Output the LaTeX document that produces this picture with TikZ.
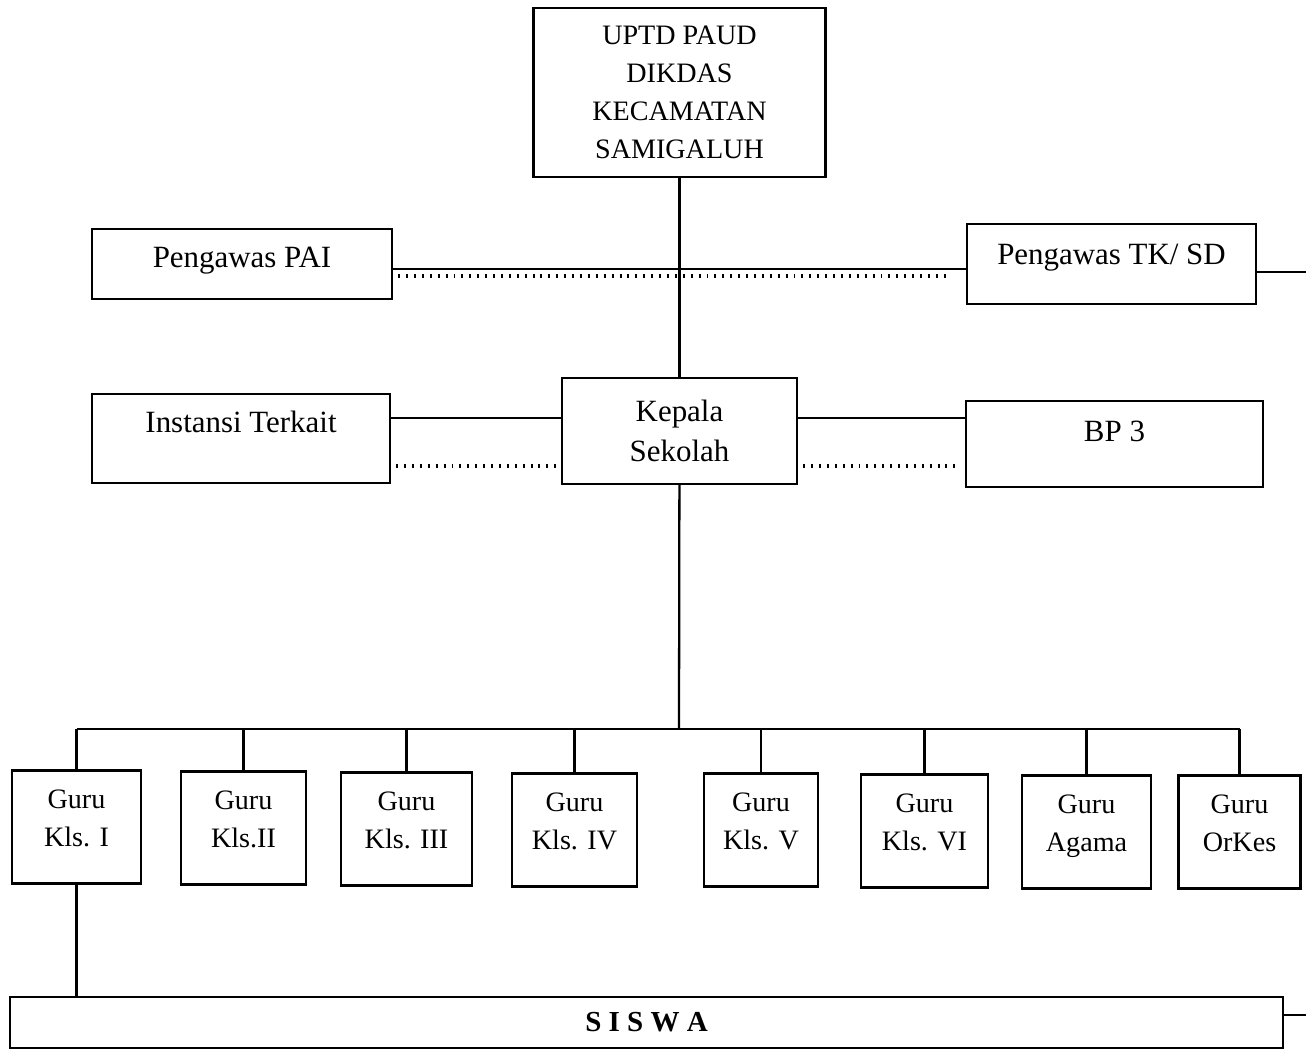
\documentclass[tikz,border=0pt]{standalone}
\usepackage{fontspec}
\setmainfont{Liberation Serif}
\usetikzlibrary{positioning}

\begin{document}
\begin{tikzpicture}[x=0.2mm,y=-0.2mm,line width=1.3pt,
	box node/.style={rectangle,draw,inner sep=0pt,align=center,
		font=\fontsize{17.6}{22.8}\selectfont},
	guru node/.style={box node,minimum height=22.6mm,text height=15.2mm,text depth=7.4mm,
		font=\fontsize{16}{21.6}\selectfont},
	dot line/.style={line width=2.2pt,dash pattern=on 1.1pt off 3.4pt,
		shorten <=1mm,shorten >=1mm}]
	
	\useasboundingbox (0,0) rectangle (1306,1051);
	
	% top level
	\node[box node,minimum width=58.4mm,minimum height=33.8mm,
		font=\fontsize{16}{21.6}\selectfont] (uptd) at (679.5,92.5)
		{UPTD PAUD\\DIKDAS\\KECAMATAN\\SAMIGALUH};
	
	\node[box node,minimum width=60mm,minimum height=14mm,
		text height=7.8mm,text depth=6.2mm] (pai) at (242,264) {Pengawas PAI};
	\node[box node,minimum width=57.8mm,minimum height=16mm,
		text height=8.2mm,text depth=7.8mm] (tksd) at (1111.5,264) {Pengawas TK/ SD};
	
	\node[box node,minimum width=59.6mm,minimum height=17.8mm,
		text height=7.8mm,text depth=10mm] (instansi) at (241,438.5) {Instansi Terkait};
	\node[box node,minimum width=47mm,minimum height=21.2mm] (kepala) at (679.5,431)
		{Kepala\\Sekolah};
	\node[box node,minimum width=59.4mm,minimum height=17.2mm,
		text height=8.2mm,text depth=9mm] (bp) at (1114.5,444) {BP 3};
	
	% guru
	\node[guru node,minimum width=25.8mm] (g1) at (76.5,827) {Guru\\Kls. I};
	\node[guru node,minimum width=25mm] (g2) at (243.5,828) {Guru\\Kls.II};
	\node[guru node,minimum width=26.2mm] (g3) at (406.5,829) {Guru\\Kls. III};
	\node[guru node,minimum width=25mm] (g4) at (574.5,830) {Guru\\Kls. IV};
	\node[guru node,minimum width=22.8mm] (g5) at (761,830) {Guru\\Kls. V};
	\node[guru node,minimum width=25.4mm] (g6) at (924.5,831) {Guru\\Kls. VI};
	\node[guru node,minimum width=25.8mm] (g7) at (1086.5,832) {Guru\\Agama};
	\node[guru node,minimum width=24.4mm] (g8) at (1239.5,832) {Guru\\OrKes};
	
	\node[box node,minimum width=254.6mm,minimum height=10.2mm,
		font=\fontsize{16.5}{20}\selectfont\bfseries] (siswa) at (646.5,1022.5) {S I S W A};
	
	% levels of the links
	\coordinate (paiA) at (679,269);
	\coordinate (paiB) at (679,276);
	\coordinate (tkend) at (1306,272);
	\coordinate (kepA) at (679,418);
	\coordinate (kepB) at (679,466);
	\coordinate (bus) at (679,729);
	\coordinate (swend) at (1306,1015);
	
	\draw (uptd) -- (kepala);
	\draw (pai.east |- paiA) -- (tksd.west |- paiA);
	\draw[dot line] (pai.east |- paiB) -- ([xshift=-2mm]tksd.west |- paiB);
	\draw (tksd.east |- tkend) -- (tkend);
	
	\draw (instansi.east |- kepA) -- (kepala.west |- kepA);
	\draw[dot line] (instansi.east |- kepB) -- (kepala.west |- kepB);
	\draw (kepala.east |- kepA) -- (bp.west |- kepA);
	\draw[dot line] (kepala.east |- kepB) -- (bp.west |- kepB);
	
	\draw (kepala) -- (bus);
	\draw (g1.north |- bus) -- (g8.north |- bus);
	\path (g1.north) edge (g1.north |- bus)
	(g2.north) edge (g2.north |- bus)
	(g3.north) edge (g3.north |- bus)
	(g4.north) edge (g4.north |- bus)
	(g5.north) edge (g5.north |- bus)
	(g6.north) edge (g6.north |- bus)
	(g7.north) edge (g7.north |- bus)
	(g8.north) edge (g8.north |- bus);
	
	\draw (g1.south) -- (g1.south |- siswa.north);
	\draw (siswa.east |- swend) -- (swend);
\end{tikzpicture}
\end{document}
